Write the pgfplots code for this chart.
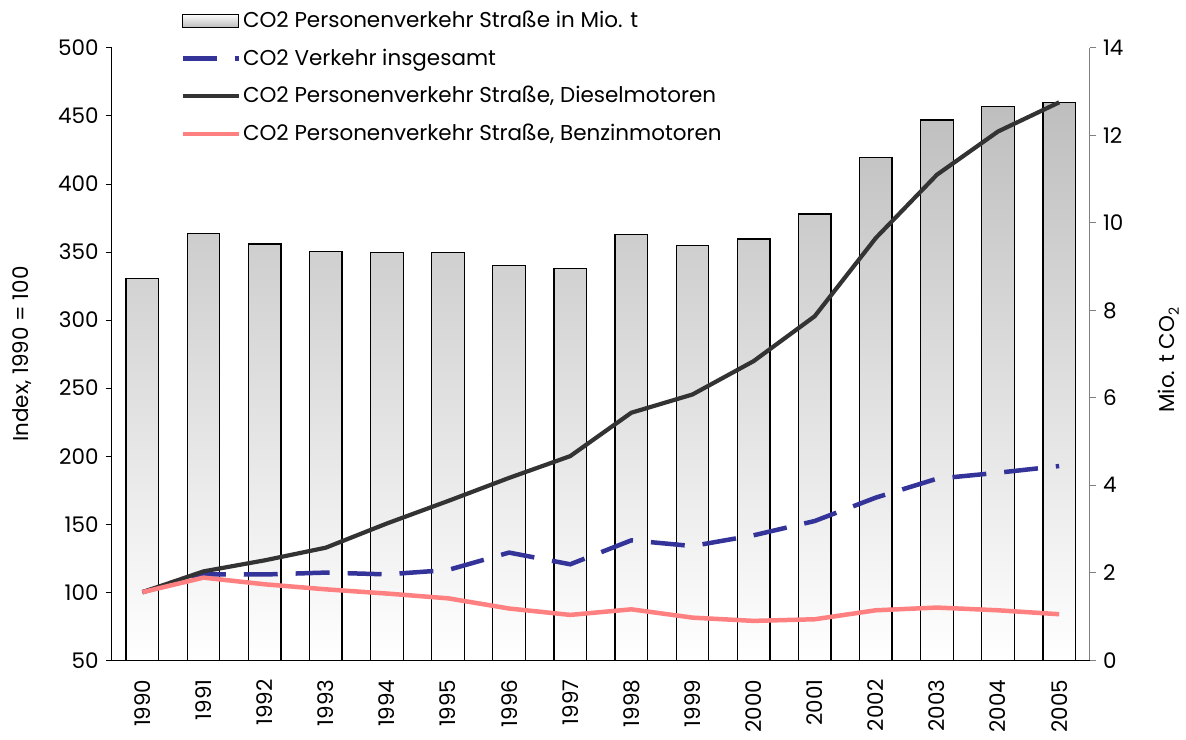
\documentclass[border=0pt]{standalone}
\usepackage{fontspec}
\setmainfont{Poppins}
\usepackage{pgfplots}
\pgfplotsset{compat=1.18}
\definecolor{dieselc}{RGB}{51,51,51}
\definecolor{bluec}{RGB}{51,51,153}
\definecolor{redc}{RGB}{255,128,128}
\definecolor{barg}{RGB}{190,190,190}
\begin{document}
\fontsize{21.5}{26}\selectfont
\begin{tikzpicture}
\path (-112pt,-68pt) rectangle (1074pt,661pt);
\begin{axis}[
  scale only axis, width=979pt, height=613pt,
  xmin=-0.5, xmax=15.5, ymin=0, ymax=14,
  axis x line=none, axis y line*=right,
  ytick={0,2,...,14},
  y axis line style={draw=gray, line width=1pt},
  ytick style={draw=gray, line width=1pt},
  tick align=outside, major tick length=6pt,
  /pgf/number format/assume math mode=true,
  ylabel={Mio. t CO\raisebox{-0.35ex}{\fontsize{14}{16}\selectfont 2}},
  ylabel style={at={(axis description cs:1.0807,0.49)}, anchor=center, rotate=0},
]
\addplot[ybar, bar width=32.6pt, draw=black, line width=1.3pt,
  top color=barg, bottom color=white] coordinates {
(0,8.73) (1,9.76) (2,9.52) (3,9.35) (4,9.33) (5,9.32) (6,9.03) (7,8.96)
(8,9.74) (9,9.48) (10,9.63) (11,10.20) (12,11.50) (13,12.35) (14,12.66) (15,12.76)};
\end{axis}
\begin{axis}[
  scale only axis, width=979pt, height=613pt,
  xmin=-0.5, xmax=15.5, ymin=50, ymax=500,
  axis y line*=left, axis x line*=bottom,
  axis line style={line width=1pt, -},
  xtick={0,...,15},
  xticklabels={1990,1991,1992,1993,1994,1995,1996,1997,1998,1999,2000,2001,2002,2003,2004,2005},
  xticklabel style={rotate=90, anchor=east},
  xticklabel shift=6pt,
  minor xtick={-0.5,0.5,...,15.5},
  xtick style={draw=none},
  minor tick style={draw=black, line width=1pt},
  minor tick length=6pt,
  ytick={50,100,...,500},
  ytick style={draw=black, line width=1pt},
  tick align=outside, major tick length=6pt,
  /pgf/number format/assume math mode=true,
  ylabel={Index, 1990 = 100},
  ylabel style={at={(axis description cs:-0.092,0.5)}, anchor=center},
  legend style={draw=none, fill=none, at={(0.067,1.067)}, anchor=north west,
    row sep=14pt, font=\fontsize{21.5}{26}\selectfont},
  legend cell align=left,
  legend image code/.code={\draw[#1] (0pt,0pt) -- (56pt,0pt);},
]
\addlegendimage{legend image code/.code={\draw[draw=black, line width=1pt, top color=white, bottom color=gray!55] (0pt,-7pt) rectangle (56pt,7pt);}}
\addlegendentry{CO2 Personenverkehr Straße in Mio. t}
\addplot[bluec, line width=4.5pt, dash pattern=on 34pt off 18pt] coordinates {
(0,100) (1,113.1) (2,113) (3,114.4) (4,113.1) (5,116.3) (6,129.1) (7,120.5)
(8,138.1) (9,133.9) (10,141.8) (11,152.3) (12,169.5) (13,183.4) (14,187.8) (15,192.7)};
\addlegendentry{CO2 Verkehr insgesamt}
\addplot[dieselc, line width=4.2pt] coordinates {
(0,100) (1,115.3) (2,123.4) (3,132.7) (4,150.5) (5,167) (6,184) (7,200)
(8,231.9) (9,245.3) (10,269.8) (11,302.8) (12,360.3) (13,406.8) (14,438.6) (15,460)};
\addlegendentry{CO2 Personenverkehr Straße, Dieselmotoren}
\addplot[redc, line width=4.5pt] coordinates {
(0,100) (1,110.7) (2,105.8) (3,102.1) (4,99) (5,95.5) (6,88) (7,83.3)
(8,87.4) (9,81.3) (10,78.9) (11,80.1) (12,86.7) (13,88.7) (14,86.7) (15,83.8)};
\addlegendentry{CO2 Personenverkehr Straße, Benzinmotoren}
\end{axis}
\end{tikzpicture}
\end{document}
